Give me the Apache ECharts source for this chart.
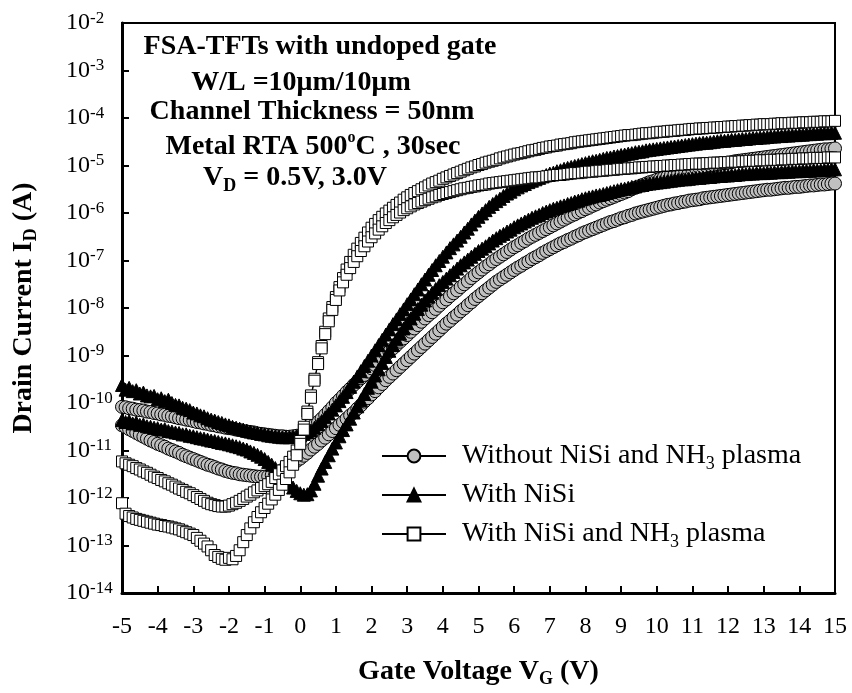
<!DOCTYPE html>
<html>
<head>
<meta charset="utf-8">
<title>FSA-TFT transfer curves</title>
<script src="https://cdn.jsdelivr.net/npm/echarts@6.0.0/dist/echarts.min.js"></script>
<style>
  html, body { margin: 0; padding: 0; background: #fff; }
  #chart { width: 852px; height: 693px; }
</style>
</head>
<body>
<div id="chart"></div>
<script>
// gate voltage sweep (V)
const vg = [
  -5,-4.9,-4.8,-4.7,-4.6,-4.5,-4.4,-4.3,-4.2,-4.1,
  -4,-3.9,-3.8,-3.7,-3.6,-3.5,-3.4,-3.3,-3.2,-3.1,
  -3,-2.9,-2.8,-2.7,-2.6,-2.5,-2.4,-2.3,-2.2,-2.1,
  -2,-1.9,-1.8,-1.7,-1.6,-1.5,-1.4,-1.3,-1.2,-1.1,
  -1,-0.9,-0.8,-0.7,-0.6,-0.5,-0.4,-0.3,-0.2,-0.1,
  0,0.1,0.2,0.3,0.4,0.5,0.6,0.7,0.8,0.9,
  1,1.1,1.2,1.3,1.4,1.5,1.6,1.7,1.8,1.9,
  2,2.1,2.2,2.3,2.4,2.5,2.6,2.7,2.8,2.9,
  3,3.1,3.2,3.3,3.4,3.5,3.6,3.7,3.8,3.9,
  4,4.1,4.2,4.3,4.4,4.5,4.6,4.7,4.8,4.9,
  5,5.1,5.2,5.3,5.4,5.5,5.6,5.7,5.8,5.9,
  6,6.1,6.2,6.3,6.4,6.5,6.6,6.7,6.8,6.9,
  7,7.1,7.2,7.3,7.4,7.5,7.6,7.7,7.8,7.9,
  8,8.1,8.2,8.3,8.4,8.5,8.6,8.7,8.8,8.9,
  9,9.1,9.2,9.3,9.4,9.5,9.6,9.7,9.8,9.9,
  10,10.1,10.2,10.3,10.4,10.5,10.6,10.7,10.8,10.9,
  11,11.1,11.2,11.3,11.4,11.5,11.6,11.7,11.8,11.9,
  12,12.1,12.2,12.3,12.4,12.5,12.6,12.7,12.8,12.9,
  13,13.1,13.2,13.3,13.4,13.5,13.6,13.7,13.8,13.9,
  14,14.1,14.2,14.3,14.4,14.5,14.6,14.7,14.8,14.9,
  15
];

// drain current as log10(ID / A)

// without NiSi and NH3 plasma (circles)
const circleVd30 = [
  -10.08,-10.09,-10.11,-10.12,-10.14,-10.15,-10.16,-10.18,-10.19,-10.21,
  -10.22,-10.24,-10.25,-10.27,-10.28,-10.3,-10.32,-10.33,-10.35,-10.36,
  -10.38,-10.4,-10.41,-10.43,-10.44,-10.46,-10.47,-10.49,-10.5,-10.52,
  -10.53,-10.54,-10.56,-10.57,-10.59,-10.6,-10.61,-10.62,-10.64,-10.65,
  -10.66,-10.67,-10.68,-10.69,-10.7,-10.7,-10.71,-10.71,-10.7,-10.69,
  -10.68,-10.63,-10.58,-10.52,-10.46,-10.4,-10.33,-10.25,-10.17,-10.09,
  -10,-9.93,-9.85,-9.77,-9.7,-9.62,-9.55,-9.48,-9.41,-9.34,
  -9.27,-9.2,-9.13,-9.06,-8.99,-8.92,-8.85,-8.78,-8.71,-8.64,
  -8.57,-8.5,-8.43,-8.36,-8.29,-8.22,-8.15,-8.09,-8.02,-7.95,
  -7.88,-7.82,-7.75,-7.69,-7.63,-7.56,-7.5,-7.44,-7.37,-7.31,
  -7.25,-7.19,-7.13,-7.08,-7.02,-6.97,-6.92,-6.87,-6.82,-6.77,
  -6.72,-6.68,-6.63,-6.59,-6.54,-6.5,-6.46,-6.42,-6.38,-6.34,
  -6.3,-6.26,-6.22,-6.18,-6.14,-6.1,-6.06,-6.03,-5.99,-5.96,
  -5.92,-5.89,-5.85,-5.82,-5.78,-5.75,-5.72,-5.69,-5.66,-5.63,
  -5.6,-5.57,-5.54,-5.5,-5.47,-5.44,-5.41,-5.38,-5.35,-5.33,
  -5.3,-5.28,-5.25,-5.23,-5.2,-5.18,-5.16,-5.14,-5.12,-5.1,
  -5.08,-5.06,-5.05,-5.03,-5.02,-5,-4.99,-4.97,-4.96,-4.95,
  -4.94,-4.93,-4.91,-4.9,-4.89,-4.88,-4.87,-4.86,-4.85,-4.84,
  -4.83,-4.82,-4.81,-4.8,-4.79,-4.78,-4.77,-4.76,-4.75,-4.74,
  -4.73,-4.72,-4.71,-4.7,-4.69,-4.68,-4.67,-4.66,-4.66,-4.65,
  -4.64
];
const circleVd05 = [
  -10.47,-10.51,-10.55,-10.59,-10.63,-10.67,-10.71,-10.75,-10.79,-10.82,
  -10.86,-10.89,-10.92,-10.96,-10.99,-11.02,-11.05,-11.09,-11.12,-11.15,
  -11.18,-11.21,-11.24,-11.27,-11.3,-11.32,-11.35,-11.38,-11.4,-11.43,
  -11.45,-11.47,-11.48,-11.5,-11.51,-11.52,-11.53,-11.54,-11.55,-11.55,
  -11.55,-11.54,-11.52,-11.49,-11.45,-11.41,-11.37,-11.32,-11.27,-11.22,
  -11.17,-11.11,-11.05,-10.98,-10.92,-10.86,-10.79,-10.73,-10.66,-10.59,
  -10.53,-10.46,-10.4,-10.33,-10.26,-10.2,-10.12,-10.05,-9.97,-9.9,
  -9.82,-9.75,-9.67,-9.6,-9.52,-9.45,-9.38,-9.31,-9.24,-9.17,
  -9.1,-9.03,-8.96,-8.89,-8.82,-8.75,-8.68,-8.61,-8.54,-8.47,
  -8.4,-8.33,-8.27,-8.2,-8.14,-8.07,-8.01,-7.94,-7.88,-7.81,
  -7.75,-7.69,-7.63,-7.57,-7.51,-7.45,-7.4,-7.35,-7.3,-7.25,
  -7.2,-7.15,-7.11,-7.06,-7.02,-6.97,-6.93,-6.89,-6.84,-6.8,
  -6.76,-6.72,-6.68,-6.64,-6.61,-6.57,-6.54,-6.5,-6.47,-6.43,
  -6.4,-6.37,-6.34,-6.31,-6.28,-6.25,-6.22,-6.19,-6.17,-6.14,
  -6.11,-6.09,-6.06,-6.04,-6.01,-5.99,-5.97,-5.95,-5.93,-5.91,
  -5.89,-5.87,-5.85,-5.83,-5.82,-5.8,-5.79,-5.77,-5.76,-5.74,
  -5.73,-5.72,-5.71,-5.69,-5.68,-5.67,-5.66,-5.65,-5.64,-5.63,
  -5.62,-5.61,-5.6,-5.59,-5.58,-5.57,-5.56,-5.55,-5.54,-5.53,
  -5.52,-5.51,-5.51,-5.5,-5.49,-5.48,-5.47,-5.47,-5.46,-5.45,
  -5.45,-5.44,-5.43,-5.42,-5.42,-5.41,-5.4,-5.4,-5.39,-5.38,
  -5.38
];

// with NiSi (triangles)
const triVd30 = [
  -9.62,-9.72,-9.68,-9.75,-9.73,-9.8,-9.78,-9.84,-9.86,-9.85,
  -9.92,-9.9,-9.96,-9.93,-10,-10.04,-10.05,-10.1,-10.12,-10.15,
  -10.2,-10.22,-10.26,-10.28,-10.32,-10.35,-10.37,-10.4,-10.42,-10.45,
  -10.47,-10.5,-10.52,-10.54,-10.56,-10.58,-10.6,-10.62,-10.63,-10.65,
  -10.66,-10.68,-10.69,-10.7,-10.71,-10.72,-10.72,-10.72,-10.71,-10.7,
  -10.68,-10.65,-10.62,-10.58,-10.52,-10.45,-10.38,-10.3,-10.22,-10.14,
  -10.05,-9.96,-9.87,-9.77,-9.66,-9.55,-9.44,-9.33,-9.22,-9.11,
  -9,-8.89,-8.78,-8.67,-8.56,-8.45,-8.34,-8.24,-8.13,-8.03,
  -7.92,-7.82,-7.71,-7.61,-7.5,-7.4,-7.3,-7.2,-7.1,-7.01,
  -6.92,-6.83,-6.74,-6.66,-6.58,-6.5,-6.41,-6.33,-6.24,-6.16,
  -6.08,-6.01,-5.94,-5.87,-5.81,-5.75,-5.7,-5.64,-5.59,-5.55,
  -5.5,-5.46,-5.42,-5.39,-5.35,-5.32,-5.29,-5.26,-5.23,-5.2,
  -5.17,-5.15,-5.12,-5.1,-5.07,-5.05,-5.03,-5.01,-4.99,-4.97,
  -4.95,-4.93,-4.91,-4.9,-4.88,-4.86,-4.84,-4.83,-4.81,-4.8,
  -4.78,-4.77,-4.75,-4.74,-4.72,-4.71,-4.7,-4.68,-4.67,-4.66,
  -4.65,-4.64,-4.63,-4.62,-4.61,-4.6,-4.59,-4.58,-4.57,-4.56,
  -4.55,-4.54,-4.53,-4.52,-4.52,-4.51,-4.5,-4.49,-4.48,-4.48,
  -4.47,-4.46,-4.46,-4.45,-4.44,-4.44,-4.43,-4.42,-4.42,-4.41,
  -4.41,-4.4,-4.39,-4.39,-4.38,-4.38,-4.37,-4.37,-4.36,-4.36,
  -4.35,-4.35,-4.34,-4.34,-4.33,-4.33,-4.32,-4.32,-4.32,-4.31,
  -4.31
];
const triVd05 = [
  -10.36,-10.4,-10.38,-10.43,-10.41,-10.46,-10.45,-10.49,-10.5,-10.52,
  -10.53,-10.56,-10.55,-10.59,-10.6,-10.62,-10.63,-10.66,-10.66,-10.69,
  -10.7,-10.72,-10.74,-10.75,-10.77,-10.79,-10.8,-10.82,-10.84,-10.85,
  -10.87,-10.89,-10.91,-10.93,-10.96,-10.98,-11.02,-11.05,-11.09,-11.13,
  -11.18,-11.24,-11.3,-11.37,-11.45,-11.52,-11.6,-11.69,-11.78,-11.85,
  -11.9,-11.93,-11.92,-11.84,-11.7,-11.53,-11.38,-11.24,-11.1,-10.96,
  -10.83,-10.7,-10.57,-10.45,-10.33,-10.2,-10.07,-9.94,-9.81,-9.68,
  -9.55,-9.42,-9.29,-9.16,-9.03,-8.9,-8.78,-8.66,-8.54,-8.43,
  -8.32,-8.22,-8.12,-8.02,-7.93,-7.84,-7.76,-7.68,-7.6,-7.52,
  -7.45,-7.38,-7.31,-7.24,-7.17,-7.1,-7.04,-6.98,-6.92,-6.86,
  -6.8,-6.75,-6.7,-6.64,-6.58,-6.53,-6.48,-6.44,-6.39,-6.35,
  -6.3,-6.26,-6.22,-6.18,-6.14,-6.1,-6.07,-6.04,-6,-5.97,
  -5.94,-5.91,-5.89,-5.86,-5.84,-5.81,-5.79,-5.76,-5.74,-5.71,
  -5.69,-5.67,-5.65,-5.63,-5.62,-5.6,-5.58,-5.56,-5.54,-5.52,
  -5.5,-5.49,-5.47,-5.45,-5.44,-5.42,-5.41,-5.39,-5.38,-5.37,
  -5.36,-5.35,-5.34,-5.33,-5.32,-5.31,-5.3,-5.29,-5.29,-5.28,
  -5.27,-5.26,-5.26,-5.25,-5.24,-5.24,-5.23,-5.22,-5.22,-5.21,
  -5.21,-5.2,-5.2,-5.19,-5.18,-5.18,-5.17,-5.17,-5.16,-5.16,
  -5.16,-5.15,-5.15,-5.14,-5.14,-5.14,-5.13,-5.13,-5.12,-5.12,
  -5.12,-5.11,-5.11,-5.11,-5.1,-5.1,-5.1,-5.09,-5.09,-5.08,
  -5.08
];

// with NiSi and NH3 plasma (squares)
const squareVd30 = [
  -11.23,-11.27,-11.3,-11.33,-11.37,-11.4,-11.44,-11.47,-11.51,-11.55,
  -11.58,-11.62,-11.65,-11.69,-11.72,-11.76,-11.8,-11.83,-11.87,-11.9,
  -11.94,-11.98,-12.02,-12.06,-12.1,-12.13,-12.15,-12.17,-12.18,-12.18,
  -12.16,-12.13,-12.1,-12.06,-12.02,-11.97,-11.93,-11.88,-11.84,-11.79,
  -11.75,-11.71,-11.66,-11.58,-11.5,-11.42,-11.33,-11.24,-11.13,-11,
  -10.8,-10.5,-10.18,-9.84,-9.49,-9.14,-8.8,-8.5,-8.22,-7.98,
  -7.77,-7.56,-7.37,-7.19,-7.03,-6.88,-6.75,-6.63,-6.52,-6.41,
  -6.31,-6.23,-6.15,-6.08,-6.01,-5.95,-5.89,-5.83,-5.78,-5.72,
  -5.67,-5.62,-5.58,-5.54,-5.5,-5.46,-5.42,-5.38,-5.35,-5.32,
  -5.28,-5.25,-5.22,-5.19,-5.16,-5.13,-5.1,-5.07,-5.04,-5.02,
  -4.99,-4.97,-4.94,-4.92,-4.9,-4.88,-4.85,-4.83,-4.81,-4.79,
  -4.77,-4.75,-4.74,-4.72,-4.7,-4.68,-4.67,-4.65,-4.63,-4.62,
  -4.6,-4.59,-4.58,-4.56,-4.55,-4.54,-4.53,-4.51,-4.5,-4.49,
  -4.48,-4.47,-4.46,-4.45,-4.44,-4.43,-4.42,-4.41,-4.4,-4.39,
  -4.38,-4.37,-4.36,-4.36,-4.35,-4.34,-4.33,-4.32,-4.32,-4.31,
  -4.3,-4.29,-4.29,-4.28,-4.27,-4.27,-4.26,-4.25,-4.25,-4.24,
  -4.23,-4.23,-4.22,-4.22,-4.21,-4.21,-4.2,-4.2,-4.19,-4.19,
  -4.18,-4.18,-4.17,-4.17,-4.16,-4.16,-4.15,-4.15,-4.14,-4.14,
  -4.13,-4.13,-4.13,-4.12,-4.12,-4.11,-4.11,-4.11,-4.1,-4.1,
  -4.1,-4.09,-4.09,-4.09,-4.08,-4.08,-4.08,-4.07,-4.07,-4.07,
  -4.06
];
const squareVd05 = [
  -12.11,-12.33,-12.38,-12.41,-12.44,-12.46,-12.48,-12.5,-12.52,-12.54,
  -12.56,-12.57,-12.59,-12.6,-12.62,-12.64,-12.66,-12.69,-12.72,-12.75,
  -12.78,-12.84,-12.9,-12.96,-13.02,-13.1,-13.2,-13.24,-13.28,-13.3,
  -13.26,-13.29,-13.22,-13.1,-12.93,-12.78,-12.64,-12.51,-12.4,-12.3,
  -12.21,-12.12,-12.03,-11.93,-11.83,-11.72,-11.6,-11.46,-11.3,-11.1,
  -10.86,-10.56,-10.23,-9.89,-9.53,-9.18,-8.85,-8.55,-8.28,-8.04,
  -7.83,-7.63,-7.46,-7.3,-7.16,-7.03,-6.91,-6.8,-6.7,-6.6,
  -6.51,-6.43,-6.35,-6.28,-6.21,-6.15,-6.09,-6.04,-5.99,-5.94,
  -5.9,-5.86,-5.82,-5.79,-5.76,-5.73,-5.7,-5.67,-5.65,-5.62,
  -5.6,-5.58,-5.56,-5.54,-5.52,-5.5,-5.48,-5.47,-5.45,-5.44,
  -5.42,-5.41,-5.4,-5.38,-5.37,-5.36,-5.35,-5.34,-5.33,-5.32,
  -5.31,-5.3,-5.29,-5.28,-5.27,-5.26,-5.25,-5.25,-5.24,-5.23,
  -5.22,-5.21,-5.2,-5.2,-5.19,-5.18,-5.17,-5.16,-5.16,-5.15,
  -5.14,-5.13,-5.13,-5.12,-5.11,-5.11,-5.1,-5.09,-5.09,-5.08,
  -5.07,-5.07,-5.06,-5.06,-5.05,-5.04,-5.04,-5.03,-5.03,-5.02,
  -5.02,-5.01,-5.01,-5,-5,-4.99,-4.99,-4.98,-4.98,-4.97,
  -4.97,-4.96,-4.96,-4.96,-4.95,-4.95,-4.94,-4.94,-4.94,-4.93,
  -4.93,-4.92,-4.92,-4.92,-4.91,-4.91,-4.9,-4.9,-4.9,-4.89,
  -4.89,-4.89,-4.88,-4.88,-4.88,-4.87,-4.87,-4.87,-4.86,-4.86,
  -4.86,-4.85,-4.85,-4.85,-4.84,-4.84,-4.84,-4.84,-4.83,-4.83,
  -4.83
];

const serif = '"Liberation Serif", "Times New Roman", serif';

const legendNames = ['Without NiSi and NH3 plasma', 'With NiSi', 'With NiSi and NH3 plasma'];
const legendLabels = {
  'Without NiSi and NH3 plasma': 'Without NiSi and NH{sub|3} plasma',
  'With NiSi': 'With NiSi',
  'With NiSi and NH3 plasma': 'With NiSi and NH{sub|3} plasma'
};

const notes = [
  'FSA-TFTs with undoped gate',
  'W/L =10\u03bcm/10\u03bcm',
  'Channel Thickness = 50nm',
  'Metal RTA 500{sup|o}C , 30sec',
  'V{sub|D} = 0.5V, 3.0V'
];
const noteX = [320, 301, 312, 313, 295];
const noteY = [47, 83, 112, 147, 178];

function pairs(ys) {
  return vg.map((x, i) => [x, ys[i]]);
}

function makeSeries(name, ys, shape, size, fill, z) {
  return {
    name: name,
    type: 'line',
    data: pairs(ys),
    symbol: shape,
    symbolSize: size,
    showSymbol: true,
    showAllSymbol: true,
    clip: false,
    silent: true,
    z: z,
    lineStyle: { color: '#000', width: 1 },
    itemStyle: { color: fill, borderColor: '#000', borderWidth: 1 },
    emphasis: { disabled: true }
  };
}

const chart = echarts.init(document.getElementById('chart'));

const option = {
  animation: false,
  backgroundColor: '#fff',
  grid: {
    left: 122, right: 17, top: 23, bottom: 98,
    show: true, borderColor: '#000', borderWidth: 2
  },
  xAxis: {
    type: 'value',
    min: -5, max: 15, interval: 1,
    axisLine: { onZero: false, lineStyle: { color: '#000', width: 3 } },
    axisTick: { inside: true, length: 7, lineStyle: { color: '#000', width: 2 } },
    splitLine: { show: false },
    axisLabel: { color: '#000', fontFamily: serif, fontSize: 24, margin: 22 },
    name: 'Gate Voltage V{sub|G} (V)',
    nameLocation: 'middle',
    nameGap: 63,
    nameTextStyle: {
      color: '#000', fontFamily: serif, fontSize: 28, fontWeight: 'bold', lineHeight: 32,
      rich: { sub: { fontFamily: serif, fontSize: 18, fontWeight: 'bold', verticalAlign: 'bottom', lineHeight: 6 } }
    }
  },
  yAxis: {
    type: 'value',
    min: -14, max: -2, interval: 1,
    axisLine: { onZero: false, lineStyle: { color: '#000', width: 3 } },
    axisTick: { inside: true, length: 7, lineStyle: { color: '#000', width: 2 } },
    splitLine: { show: false },
    axisLabel: {
      align: 'left',
      margin: 56,
      formatter: function (v) { return '{m|10}{s|' + v + '}'; },
      rich: {
        m: { color: '#000', fontFamily: serif, fontSize: 24, lineHeight: 26 },
        s: { color: '#000', fontFamily: serif, fontSize: 17, verticalAlign: 'top', lineHeight: 14 }
      }
    },
    name: 'Drain Current I{sub|D} (A)',
    nameLocation: 'middle',
    nameGap: 82,
    nameTextStyle: {
      color: '#000', fontFamily: serif, fontSize: 28, fontWeight: 'bold', lineHeight: 32,
      rich: { sub: { fontFamily: serif, fontSize: 18, fontWeight: 'bold', verticalAlign: 'bottom', lineHeight: 6 } }
    }
  },
  legend: {
    data: legendNames,
    orient: 'vertical',
    left: 376,
    top: 434,
    itemWidth: 64,
    itemHeight: 16,
    itemGap: 5,
    selectedMode: false,
    formatter: function (name) { return legendLabels[name]; },
    textStyle: {
      color: '#000', fontFamily: serif, fontSize: 28, lineHeight: 34, padding: [0, 0, 0, 11],
      rich: { sub: { color: '#000', fontFamily: serif, fontSize: 18, verticalAlign: 'middle', lineHeight: 16, padding: [16, 0, 0, 0] } }
    }
  },
  graphic: notes.map(function (t, i) {
    return {
      type: 'text',
      x: noteX[i],
      y: noteY[i],
      silent: true,
      style: {
        text: t,
        fill: '#000',
        fontFamily: serif,
        fontSize: 28,
        fontWeight: 'bold',
        lineHeight: 34,
        align: 'center',
        verticalAlign: 'middle',
        textAlign: 'center',
        textVerticalAlign: 'middle',
        rich: {
          sup: { fill: '#000', fontFamily: serif, fontSize: 16, fontWeight: 'bold', verticalAlign: 'top', lineHeight: 18 },
          sub: { fill: '#000', fontFamily: serif, fontSize: 18, fontWeight: 'bold', verticalAlign: 'bottom', lineHeight: 6 }
        }
      }
    };
  }),
  series: [
    makeSeries(legendNames[0], circleVd30, 'circle', 13, '#c0c0c0', 2),
    makeSeries(legendNames[0], circleVd05, 'circle', 13, '#c0c0c0', 2),
    makeSeries(legendNames[1], triVd30, 'triangle', 13, '#000', 3),
    makeSeries(legendNames[1], triVd05, 'triangle', 13, '#000', 3),
    makeSeries(legendNames[2], squareVd30, 'rect', 11, '#fff', 4),
    makeSeries(legendNames[2], squareVd05, 'rect', 11, '#fff', 4)
  ]
};

chart.setOption(option);
</script>
</body>
</html>
